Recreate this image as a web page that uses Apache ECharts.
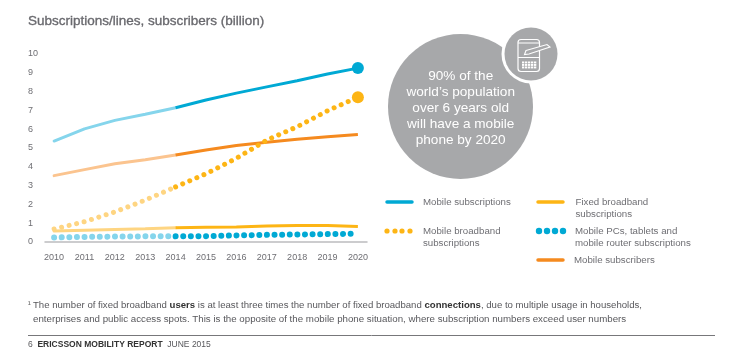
<!DOCTYPE html>
<html><head><meta charset="utf-8">
<style>html,body{margin:0;padding:0;background:#fff}#c{width:747px;height:359px}</style>
<script src="https://cdn.jsdelivr.net/npm/echarts@6/dist/echarts.min.js"></script>
</head><body><div id="c"></div>
<script>
const years=['2010','2011','2012','2013','2014','2015','2016','2017','2018','2019','2020'];
const yLabels=[0,1,2,3,4,5,6,7,8,9,10];
const mobileSubs=[5.37,6.02,6.47,6.8,7.14,7.55,7.92,8.25,8.58,8.94,9.25];
const subscribers=[3.53,3.85,4.16,4.38,4.63,4.89,5.13,5.3,5.47,5.6,5.72];
const mobileBroadband=[0.69,1.08,1.6,2.23,2.93,3.63,4.45,5.42,6.13,6.98,7.7];
const fixedBroadband=[0.58,0.62,0.66,0.7,0.76,0.78,0.8,0.85,0.88,0.88,0.82];
const pcsTablets=[0.24,0.27,0.29,0.3,0.3,0.31,0.35,0.38,0.4,0.42,0.44];
const legendItems=['Mobile subscriptions','Fixed broadband\nsubscriptions','Mobile broadband\nsubscriptions','Mobile PCs, tablets and\nmobile router subscriptions','Mobile subscribers'];
const titleText='Subscriptions/lines, subscribers (billion)';
const calloutText="90% of the\nworld’s population\nover 6 years old\nwill have a mobile\nphone by 2020";
const BLUE='#00a9d4',LBLUE='#85d5ec',YEL='#fdb515',LYEL='#fed582',ORG='#f58a1f',LORG='#fbc48f',GREY='#a7a8aa';
const FONT='"Liberation Sans",Arial,sans-serif',TXT='#6e6e73';
function part(arr,from,to,endMark){
  return arr.map((v,i)=>{
    if(i<from||i>to) return null;
    if(endMark&&i===to) return {value:v,symbol:'circle',symbolSize:endMark};
    return v;
  });
}
function solid(name,arr,light,dark,w,mark){
  return [
   {name,type:'line',data:part(arr,0,4),symbol:'none',z:2,lineStyle:{color:light,width:w,cap:'round'},itemStyle:{color:light}},
   {name,type:'line',data:part(arr,4,10,mark),symbol:'none',z:3,lineStyle:{color:dark,width:w,cap:'butt'},itemStyle:{color:dark}}
  ];
}
function dotted(name,arr,light,dark,w,gap,mark){
  return [
   {name,type:'line',data:part(arr,0,4),symbol:'none',z:2,lineStyle:{color:light,width:w,cap:'round',type:[0.01,gap]}},
   {name,type:'line',data:part(arr,4,10,mark),symbol:'none',z:3,lineStyle:{color:dark,width:w,cap:'round',type:[0.01,gap]},itemStyle:{color:dark}}
  ];
}
const T=(x,y,text,o={})=>({type:'text',x,y,silent:true,style:Object.assign({text,font:'9.7px '+FONT,fill:TXT,lineHeight:12},o)});
const keyRows=[61.5,64,66.5],keyCols=[523,526,529,532,535];
const graphic=[
 T(28,15,titleText,{font:'13.5px '+FONT,fill:'#69696e',stroke:'#69696e',lineWidth:0.35}),
 {type:'circle',shape:{cx:460.5,cy:106.5,r:72.5},style:{fill:GREY},silent:true},
 {type:'circle',shape:{cx:531,cy:54,r:29.5},style:{fill:'#ffffff'},silent:true},
 {type:'circle',shape:{cx:531,cy:54,r:26.5},style:{fill:GREY},silent:true},
 T(460.7,68,calloutText,{font:'13.6px '+FONT,fill:'#ffffff',lineHeight:16,textAlign:'center'}),
 {type:'rect',shape:{x:518,y:39.5,width:21.5,height:32,r:3},style:{fill:'none',stroke:'#fff',lineWidth:1.2},silent:true},
 {type:'line',shape:{x1:518,y1:43,x2:539.5,y2:43},style:{stroke:'#fff',lineWidth:1},silent:true},
 {type:'line',shape:{x1:518,y1:57.5,x2:539.5,y2:57.5},style:{stroke:'#fff',lineWidth:1},silent:true},
 ...keyRows.flatMap(y=>keyCols.map(x=>({type:'rect',shape:{x:x-1,y,width:2.3,height:1.9},style:{fill:'#fff'},silent:true}))),
 {type:'polygon',shape:{points:[[526,50.5],[547,44.5],[550,47],[529,54],[524.5,54.5]]},style:{fill:GREY,stroke:'#fff',lineWidth:1.1},silent:true},
 {type:'line',shape:{x1:387,y1:202,x2:412,y2:202},style:{stroke:BLUE,lineWidth:3.5,lineCap:'round'},silent:true},
 {type:'line',shape:{x1:538,y1:202,x2:563,y2:202},style:{stroke:YEL,lineWidth:3.5,lineCap:'round'},silent:true},
 {type:'line',shape:{x1:538,y1:260,x2:563,y2:260},style:{stroke:ORG,lineWidth:3.5,lineCap:'round'},silent:true},
 ...[387,395,402,410].map(x=>({type:'circle',shape:{cx:x,cy:231,r:2.6},style:{fill:YEL},silent:true})),
 ...[539,547,555,563].map(x=>({type:'circle',shape:{cx:x,cy:231,r:3.2},style:{fill:BLUE},silent:true})),
 T(423,196.5,legendItems[0]),
 T(575.5,196.5,legendItems[1]),
 T(423,225,legendItems[2]),
 T(575,225,legendItems[3]),
 T(574,254,legendItems[4]),
 T(28,299,'¹',{font:'8px '+FONT,fill:'#444'}),
 {type:'text',x:33,y:300,silent:true,style:{text:'{a|The number of fixed broadband }{b|users}{a| is at least three times the number of fixed broadband }{b|connections}{a|, due to multiple usage in households,}',rich:{a:{font:'9.6px '+FONT,fill:'#58585c'},b:{font:'bold 9.6px '+FONT,fill:'#333'}}}},
 T(33,313,'enterprises and public access spots. This is the opposite of the mobile phone situation, where subscription numbers exceed user numbers',{font:'9.72px '+FONT,fill:'#58585c'}),
 {type:'line',shape:{x1:28,y1:335.5,x2:715,y2:335.5},style:{stroke:'#77777a',lineWidth:1},silent:true},
 {type:'text',x:28,y:340,silent:true,style:{text:'{a|6  }{b|ERICSSON MOBILITY REPORT}{a|  JUNE 2015}',rich:{a:{font:'8.5px '+FONT,fill:'#58585c'},b:{font:'bold 8.5px '+FONT,fill:'#333'}}}}
];
const chart=echarts.init(document.getElementById('c'),null,{renderer:'canvas'});
chart.setOption({
 animation:false,backgroundColor:'#fff',
 grid:{left:45,right:380,top:54,bottom:117},
 graphic,
 xAxis:{type:'value',min:2009.7,max:2020.3,splitLine:{show:false},axisTick:{show:false},
   axisLine:{lineStyle:{color:'#bcbcbe',width:1.5}},
   axisLabel:{color:TXT,fontFamily:FONT,fontSize:9,margin:11,customValues:years.map(Number),formatter:v=>String(v)}},
 yAxis:{type:'value',min:0,max:10,interval:1,splitLine:{show:false},axisTick:{show:false},axisLine:{show:false},
   axisLabel:{color:TXT,fontFamily:FONT,fontSize:9,margin:17,align:'left',formatter:v=>yLabels[v]}},
 series:[
  ...solid('Mobile subscriptions',mobileSubs,LBLUE,BLUE,3,12),
  ...solid('Mobile subscribers',subscribers,LORG,ORG,3,0),
  ...solid('Fixed broadband subscriptions',fixedBroadband,LYEL,YEL,3,0),
  ...dotted('Mobile broadband subscriptions',mobileBroadband,LYEL,YEL,5,7.7,12),
  ...dotted('Mobile PCs, tablets and mobile router subscriptions',pcsTablets,LBLUE,BLUE,6,7.6,0)
 ].map(s=>{s.data=s.data.map((d,i)=>d===null?null:(typeof d==='object'?{value:[+years[i],d.value],symbol:d.symbol,symbolSize:d.symbolSize}:[+years[i],d]));return s;})
});
</script></body></html>
